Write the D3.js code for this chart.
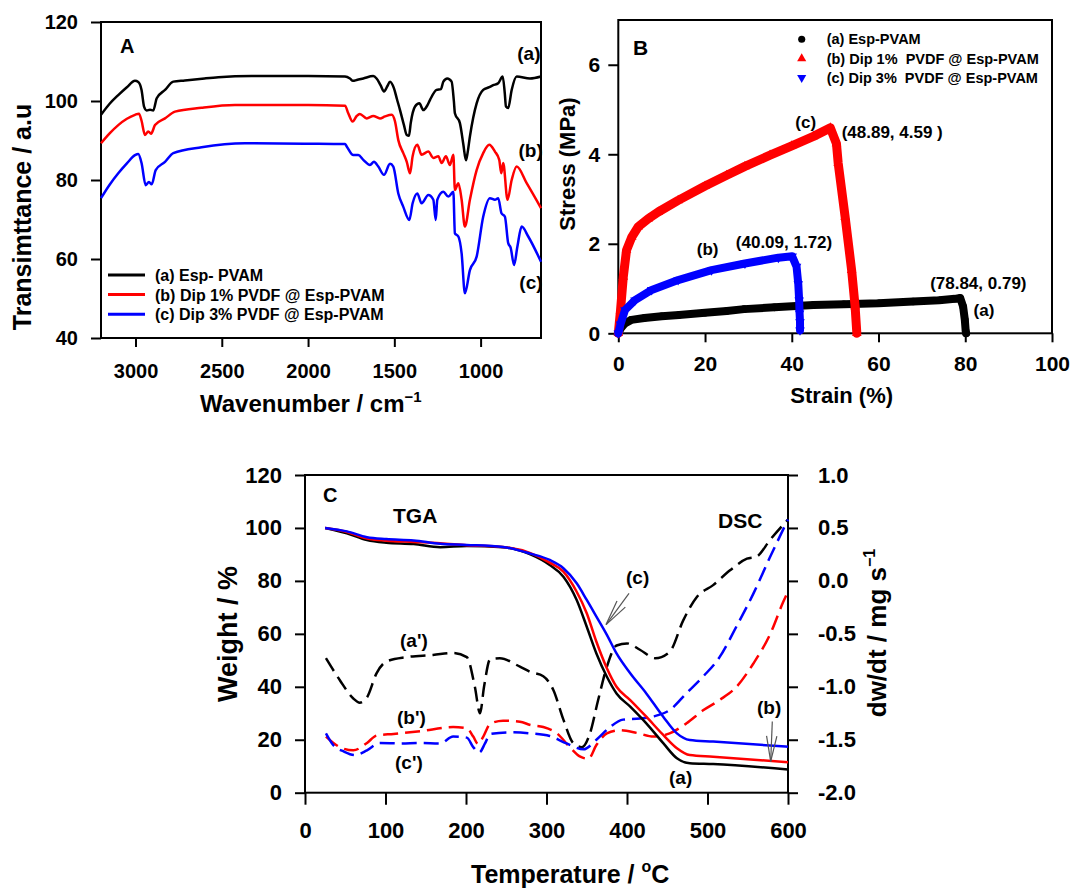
<!DOCTYPE html>
<html>
<head>
<meta charset="utf-8">
<script src="https://cdn.jsdelivr.net/npm/d3@7"></script>
<style>
  body { margin: 0; background: #fff; }
  svg text { font-family: Arial, "Liberation Sans", sans-serif; font-weight: bold; fill: #000; }
</style>
</head>
<body>
<svg id="fig" width="1071" height="892"></svg>
<script>
// ---------------- Panel A: FTIR spectra [wavenumber, transmittance] ----------------
const ftirEsp = [[3200,96.5],[3150,99.3],[3100,101.5],[3050,103.5],[3003,105.1],[2984,104.8],[2965,102.8],[2950,98.5],[2935,97.6],[2916,97.8],[2897,97.6],[2877,100.7],[2829,102.8],[2781,104.9],[2714,105.2],[2600,105.7],[2520,106.0],[2327,106.3],[2000,106.3],[1786,106.2],[1757,105.7],[1740,105.1],[1718,105.3],[1680,105.7],[1622,106.3],[1603,105.7],[1580,104.0],[1560,102.4],[1540,103.8],[1525,104.9],[1502,103.2],[1485,100.5],[1467,97.7],[1445,94.0],[1428,91.4],[1415,91.2],[1405,94.4],[1380,98.6],[1355,99.4],[1332,97.7],[1310,98.8],[1293,100.3],[1255,102.8],[1230,103.0],[1216,104.9],[1193,105.7],[1168,104.9],[1155,100.0],[1149,96.9],[1120,94.4],[1100,89.0],[1085,85.0],[1075,87.0],[1062,91.0],[1023,99.4],[985,102.8],[950,103.5],[927,104.0],[898,104.5],[872,106.2],[860,102.0],[853,98.6],[840,98.2],[820,102.8],[791,106.2],[714,105.7],[650,106.2]];
const ftirDip1 = [[3200,89.3],[3150,91.8],[3100,93.9],[3050,95.5],[3003,96.5],[2980,96.8],[2965,95.0],[2945,91.4],[2926,92.3],[2910,91.7],[2887,93.9],[2829,95.6],[2771,97.3],[2617,98.3],[2424,99.0],[2000,99.0],[1786,98.8],[1767,96.9],[1742,94.8],[1718,96.2],[1700,96.7],[1660,95.6],[1622,96.2],[1583,95.6],[1554,96.1],[1515,96.5],[1496,94.8],[1477,90.1],[1448,86.8],[1428,84.6],[1409,81.7],[1394,86.0],[1367,88.9],[1342,86.4],[1303,87.2],[1274,85.6],[1245,86.0],[1226,84.3],[1201,86.0],[1178,83.8],[1158,86.4],[1149,77.5],[1129,79.2],[1110,75.0],[1091,68.2],[1062,75.0],[1023,82.5],[985,86.8],[950,88.9],[917,87.2],[892,85.1],[880,81.7],[869,84.3],[844,75.0],[820,80.0],[791,83.4],[733,79.2],[650,72.9]];
const ftirDip3 = [[3200,75.4],[3150,78.8],[3100,81.7],[3050,84.2],[3003,86.3],[2984,86.6],[2965,84.3],[2941,78.7],[2922,79.5],[2906,78.9],[2883,82.5],[2829,84.6],[2781,86.8],[2617,88.3],[2366,89.3],[2000,89.2],[1786,89.1],[1776,88.5],[1738,86.3],[1709,86.3],[1680,85.1],[1641,83.8],[1618,84.6],[1593,83.4],[1560,81.3],[1525,84.1],[1506,83.4],[1477,76.6],[1448,73.2],[1413,69.9],[1394,74.1],[1367,76.6],[1342,74.1],[1303,76.2],[1274,75.0],[1260,69.9],[1251,75.0],[1216,77.0],[1187,75.8],[1158,77.0],[1149,66.5],[1129,65.7],[1110,61.4],[1091,51.3],[1062,57.2],[1023,60.6],[985,70.7],[946,75.4],[917,75.0],[898,75.4],[879,71.6],[859,70.7],[840,64.0],[826,62.9],[806,58.5],[787,63.1],[762,68.2],[724,65.7],[650,59.3]];
const ftirTicksX = [3000, 2500, 2000, 1500, 1000];
const ftirTicksY = [40, 60, 80, 100, 120];
const ftirLegend = ["(a) Esp- PVAM", "(b) Dip 1% PVDF @ Esp-PVAM", "(c) Dip 3% PVDF @ Esp-PVAM"];

// ---------------- Panel B: stress-strain [strain %, stress MPa] ----------------
const tensileEsp = [[0,0],[0.5,0.1],[1.5,0.22],[3,0.3],[6,0.34],[10,0.38],[14,0.41],[20,0.46],[25,0.5],[29,0.54],[36,0.58],[45,0.63],[52,0.65],[60,0.67],[68,0.71],[74,0.74],[77.6,0.77],[78.84,0.79],[79.5,0.6],[79.9,0.3],[80.1,0.05],[80.2,0]];
const tensileDip1 = [[0,0],[0.5,0.5],[1.15,1.26],[1.9,1.86],[3.1,2.15],[4.6,2.38],[6.9,2.56],[9.2,2.71],[13.8,2.97],[20,3.29],[25,3.53],[29.2,3.73],[35,3.98],[40,4.19],[45,4.4],[48.89,4.59],[50.3,4.24],[50.7,3.8],[52.3,2.6],[53.8,1.41],[54.6,0.6],[55,0]];
const tensileDip3 = [[0,0],[0.5,0.2],[1.55,0.52],[3.85,0.74],[7.7,0.97],[13.8,1.19],[21.5,1.41],[29.2,1.56],[36.9,1.69],[40.09,1.72],[41.1,1.49],[41.5,1.1],[41.7,0.74],[41.8,0.45],[41.9,0.25],[41.9,0.07]];
const tensileTicksX = [0, 20, 40, 60, 80, 100];
const tensileTicksY = [0, 2, 4, 6];
const tensileLegend = ["(a) Esp-PVAM", "(b) Dip 1%  PVDF @ Esp-PVAM", "(c) Dip 3%  PVDF @ Esp-PVAM"];
const peakLabels = ["(78.84, 0.79)", "(48.89, 4.59 )", "(40.09, 1.72)"];

// ---------------- Panel C: TGA [°C, weight %] and DSC [°C, dw/dt] ----------------
const tgaEsp = [[25,100],[52,98],[77,95.4],[101,94.4],[135,93.9],[168,92.7],[201,93.2],[246,92.7],[280,90],[304,86],[321,81.6],[337.5,72.8],[350,62.7],[362,52.6],[375,43.8],[387,37.5],[404,32.5],[424,26.2],[445,18.7],[462,13],[478,11.1],[507,10.8],[600,8.8]];
const tgaDip1 = [[25,100],[52,98.5],[77,96],[101,95.2],[135,94.7],[168,94.2],[201,93.5],[246,92.8],[280,90.5],[304,86.9],[321,83.5],[337.5,75.9],[350,67.8],[362,57],[375,47],[387,40],[404,35],[424,28.7],[445,21.8],[462,16.8],[478,14.2],[507,13.6],[600,11.5]];
const tgaDip3 = [[25,100],[52,98.7],[77,96.5],[101,95.8],[135,95.3],[168,94],[201,93.6],[246,92.8],[280,90.3],[304,87.9],[321,84.8],[337.5,79.1],[350,72.8],[362,66.5],[375,59.6],[387,52.6],[404,45.1],[424,37.5],[445,28.7],[462,22.4],[478,19.9],[507,19.3],[600,17.4]];
const dscEsp = [[26,-0.73],[43.5,-0.94],[60,-1.11],[68,-1.15],[77,-1.10],[89,-0.87],[101.5,-0.76],[126,-0.72],[159,-0.70],[184,-0.68],[201,-0.72],[211,-1.0],[217.4,-1.25],[222.4,-1.0],[230,-0.74],[242,-0.73],[267,-0.81],[280,-0.86],[296,-0.90],[308.5,-1.03],[321,-1.31],[333,-1.53],[344,-1.57],[354,-1.44],[364,-1.13],[375,-0.81],[387,-0.61],[400,-0.59],[416,-0.65],[435,-0.73],[453,-0.67],[470,-0.37],[487,-0.15],[507,-0.04],[528,0.10],[549,0.21],[561,0.23],[578,0.39],[600,0.58]];
const dscDip1 = [[26,-1.47],[43.5,-1.57],[60,-1.60],[77,-1.53],[89,-1.46],[110,-1.445],[143,-1.42],[184,-1.38],[201,-1.39],[209,-1.47],[215,-1.54],[221.5,-1.47],[230,-1.35],[246,-1.32],[267,-1.33],[280,-1.36],[296,-1.38],[313,-1.44],[329,-1.57],[342,-1.66],[352,-1.68],[362,-1.55],[375,-1.44],[391,-1.41],[412,-1.435],[433,-1.47],[453,-1.44],[474,-1.345],[495,-1.22],[515,-1.125],[536,-1.0],[557,-0.78],[578,-0.50],[594,-0.20],[600,-0.10]];
const dscDip3 = [[26,-1.44],[35,-1.55],[48,-1.61],[62,-1.645],[77,-1.60],[93,-1.53],[118,-1.535],[143,-1.53],[168,-1.535],[184,-1.47],[201,-1.48],[209,-1.57],[216.5,-1.62],[223.6,-1.535],[230,-1.445],[255,-1.43],[280,-1.44],[304,-1.465],[325,-1.535],[346,-1.59],[362,-1.50],[379,-1.38],[395,-1.31],[416,-1.30],[433,-1.28],[453,-1.22],[474,-1.06],[495,-0.90],[515,-0.72],[536,-0.43],[557,-0.12],[578,0.23],[600,0.58]];
const tempTicks = [0, 100, 200, 300, 400, 500, 600];
const weightTicks = [0, 20, 40, 60, 80, 100, 120];
const dscTicks = [-2.0, -1.5, -1.0, -0.5, 0.0, 0.5, 1.0];

const colors = ["#000000", "#ff0000", "#0000ff"];

// ---------------- helpers ----------------
const svg = d3.select("#fig");

function styleAxis(g, fs) {
  g.select(".domain").remove();
  g.selectAll(".tick line").attr("stroke", "#000").attr("stroke-width", 2);
  g.selectAll(".tick text").attr("font-size", fs).attr("fill", "#000");
}

function label(g, x, y, txt, fs, anchor) {
  return g.append("text").attr("x", x).attr("y", y)
    .attr("font-size", fs).attr("text-anchor", anchor || "start")
    .style("white-space", "pre").text(txt);
}

function frame(g, x, y) {
  const [x0, x1] = x.range(), [y0, y1] = y.range();
  g.append("rect")
    .attr("x", Math.min(x0, x1)).attr("y", Math.min(y0, y1))
    .attr("width", Math.abs(x1 - x0)).attr("height", Math.abs(y1 - y0))
    .attr("fill", "none").attr("stroke", "#000").attr("stroke-width", 2);
}

function arrow(g, x1, y1, x2, y2) {
  const ang = Math.atan2(y1 - y2, x1 - x2), len = 26, spread = 0.2;
  const a = g.append("g").attr("stroke", "#555").attr("stroke-width", 1.2).attr("fill", "none");
  a.append("line").attr("x1", x1).attr("y1", y1).attr("x2", x2).attr("y2", y2);
  [-spread, spread].forEach(s => {
    a.append("line").attr("x1", x2).attr("y1", y2)
      .attr("x2", x2 + len * Math.cos(ang + s)).attr("y2", y2 + len * Math.sin(ang + s));
  });
}

// ================= Panel A =================
{
  const x = d3.scaleLinear().domain([3200, 650]).range([101, 541]);
  const y = d3.scaleLinear().domain([40, 120]).range([338, 22]);
  const g = svg.append("g");

  g.append("g").attr("transform", `translate(0,${y(40)})`)
    .call(d3.axisBottom(x).tickValues(ftirTicksX).tickSize(9).tickPadding(17).tickFormat(d3.format("d")))
    .call(styleAxis, 20);
  g.append("g").attr("transform", `translate(${x(3200)},0)`)
    .call(d3.axisLeft(y).tickValues(ftirTicksY).tickSize(10).tickPadding(13).tickFormat(d3.format("d")))
    .call(styleAxis, 20);
  frame(g, x, y);

  const line = d3.line().x(d => x(d[0])).y(d => y(d[1])).curve(d3.curveMonotoneX);
  [ftirEsp, ftirDip1, ftirDip3].forEach((s, i) => {
    g.append("path").datum(s).attr("d", line).attr("fill", "none")
      .attr("stroke", colors[i]).attr("stroke-width", 2.5).attr("stroke-linejoin", "round");
  });

  // legend
  ftirLegend.forEach((t, i) => {
    const ly = 275 + i * 19.6;
    g.append("line").attr("x1", 108).attr("x2", 145).attr("y1", ly).attr("y2", ly)
      .attr("stroke", colors[i]).attr("stroke-width", 3);
    label(g, 155, ly + 6, t, 16);
  });

  label(g, 120, 53, "A", 20);
  label(g, x(720), y(110.5), "(a)", 19, "middle");
  label(g, x(710), y(85.7), "(b)", 19, "middle");
  label(g, x(708), y(52.3), "(c)", 19, "middle");

  const xt = g.append("text").attr("x", 200).attr("y", 412).attr("font-size", 24);
  xt.append("tspan").text("Wavenumber / cm");
  xt.append("tspan").attr("font-size", 15).attr("dy", -10).text("\u22121");
  g.append("text").attr("transform", "translate(31,217) rotate(-90)")
    .attr("font-size", 25).attr("text-anchor", "middle").text("Transimttance / a.u");
}

// ================= Panel B =================
{
  const x = d3.scaleLinear().domain([0, 100]).range([618.3, 1052]);
  const y = d3.scaleLinear().domain([0, 7]).range([333.3, 20]);
  const g = svg.append("g");

  g.append("g").attr("transform", `translate(0,${y(0)})`)
    .call(d3.axisBottom(x).tickValues(tensileTicksX).tickSize(9).tickPadding(14).tickFormat(d3.format("d")))
    .call(styleAxis, 21);
  g.append("g").attr("transform", `translate(${x(0)},0)`)
    .call(d3.axisLeft(y).tickValues(tensileTicksY).tickSize(10).tickPadding(8).tickFormat(d3.format("d")))
    .call(styleAxis, 21);
  frame(g, x, y);

  const symbols = [d3.symbolCircle, d3.symbolTriangle, d3.symbolTriangle];
  const rot = [0, 0, 180];
  const line = d3.line().x(d => x(d[0])).y(d => y(d[1])).curve(d3.curveLinear);
  [tensileEsp, tensileDip1, tensileDip3].forEach((s, i) => {
    g.append("path").datum(s).attr("d", line).attr("fill", "none")
      .attr("stroke", colors[i]).attr("stroke-width", i === 1 ? 9 : 8)
      .attr("stroke-linejoin", "round").attr("stroke-linecap", "round");
    g.selectAll(null).data(s).enter().append("path")
      .attr("d", d3.symbol().type(symbols[i]).size(i === 0 ? 45 : 40))
      .attr("transform", d => `translate(${x(d[0])},${y(d[1])}) rotate(${rot[i]})`)
      .attr("fill", colors[i]);
  });

  // legend
  tensileLegend.forEach((t, i) => {
    const ly = 39.3 + i * 19.2;
    g.append("path").attr("d", d3.symbol().type(symbols[i]).size(i === 0 ? 40 : 36))
      .attr("transform", `translate(801.7,${ly}) rotate(${rot[i]})`).attr("fill", colors[i]);
    label(g, 826.7, ly + 5, t, 14.5);
  });

  label(g, 633, 55, "B", 21);
  label(g, x(43.2), y(4.5) - 4, "(c)", 17, "middle");
  label(g, x(51.5), y(4.59) + 10, peakLabels[1], 17);
  label(g, x(20.6), y(1.72) - 1, "(b)", 17, "middle");
  label(g, x(27.1), y(1.72) - 8, peakLabels[2], 17);
  label(g, x(71.9), y(0.79) - 9, peakLabels[0], 17);
  label(g, x(84.3), y(0.39), "(a)", 17, "middle");

  label(g, 841.7, 403, "Strain (%)", 22, "middle");
  g.append("text").attr("transform", "translate(575,164) rotate(-90)")
    .attr("font-size", 22).attr("text-anchor", "middle").text("Stress (MPa)");
}

// ================= Panel C =================
{
  const x = d3.scaleLinear().domain([0, 600]).range([305, 788]);
  const y = d3.scaleLinear().domain([0, 120]).range([792.7, 475]);
  const yR = d3.scaleLinear().domain([-2, 1]).range([792.7, 475]);
  const g = svg.append("g");

  g.append("g").attr("transform", `translate(0,${y(0)})`)
    .call(d3.axisBottom(x).tickValues(tempTicks).tickSize(12).tickPadding(18).tickFormat(d3.format("d")))
    .call(styleAxis, 22);
  g.append("g").attr("transform", `translate(${x(0)},0)`)
    .call(d3.axisLeft(y).tickValues(weightTicks).tickSize(10).tickPadding(13).tickFormat(d3.format("d")))
    .call(styleAxis, 22);
  g.append("g").attr("transform", `translate(${x(600)},0)`)
    .call(d3.axisRight(yR).tickValues(dscTicks).tickSize(10).tickPadding(20).tickFormat(d => d.toFixed(1)))
    .call(styleAxis, 22);
  frame(g, x, y);

  const lineL = d3.line().x(d => x(d[0])).y(d => y(d[1])).curve(d3.curveMonotoneX);
  const lineR = d3.line().x(d => x(d[0])).y(d => yR(d[1])).curve(d3.curveMonotoneX);

  [dscEsp, dscDip1, dscDip3].forEach((s, i) => {
    g.append("path").datum(s).attr("d", lineR).attr("fill", "none")
      .attr("stroke", colors[i]).attr("stroke-width", 2.5).attr("stroke-dasharray", "15,7");
  });
  [tgaEsp, tgaDip1, tgaDip3].forEach((s, i) => {
    g.append("path").datum(s).attr("d", lineL).attr("fill", "none")
      .attr("stroke", colors[i]).attr("stroke-width", 2.5);
  });

  arrow(g, x(402.5), y(75.3), x(374), y(63.5));
  arrow(g, x(580.5), y(26.9), x(578.5), y(11.8));

  label(g, 323, 502, "C", 20);
  label(g, 393, 523, "TGA", 21);
  label(g, 718, 528, "DSC", 21);
  label(g, 400, 647, "(a')", 19);
  label(g, 397, 724, "(b')", 19);
  label(g, 395, 769, "(c')", 19);
  label(g, 626, 584, "(c)", 19);
  label(g, 757, 714, "(b)", 19);
  label(g, 669, 784, "(a)", 19);

  const xt = g.append("text").attr("x", 471).attr("y", 883).attr("font-size", 25);
  xt.append("tspan").text("Temperature / ");
  xt.append("tspan").attr("font-size", 16).attr("dy", -11).text("o");
  xt.append("tspan").attr("dy", 11).text("C");

  g.append("text").attr("transform", "translate(237,634) rotate(-90)")
    .attr("font-size", 27).attr("text-anchor", "middle").text("Weight / %");
  const rt = g.append("text").attr("transform", "translate(886,633) rotate(-90)")
    .attr("font-size", 26).attr("text-anchor", "middle");
  rt.append("tspan").text("dw/dt / mg s");
  rt.append("tspan").attr("font-size", 16).attr("dy", -11).text("\u22121");
}
</script>
</body>
</html>
